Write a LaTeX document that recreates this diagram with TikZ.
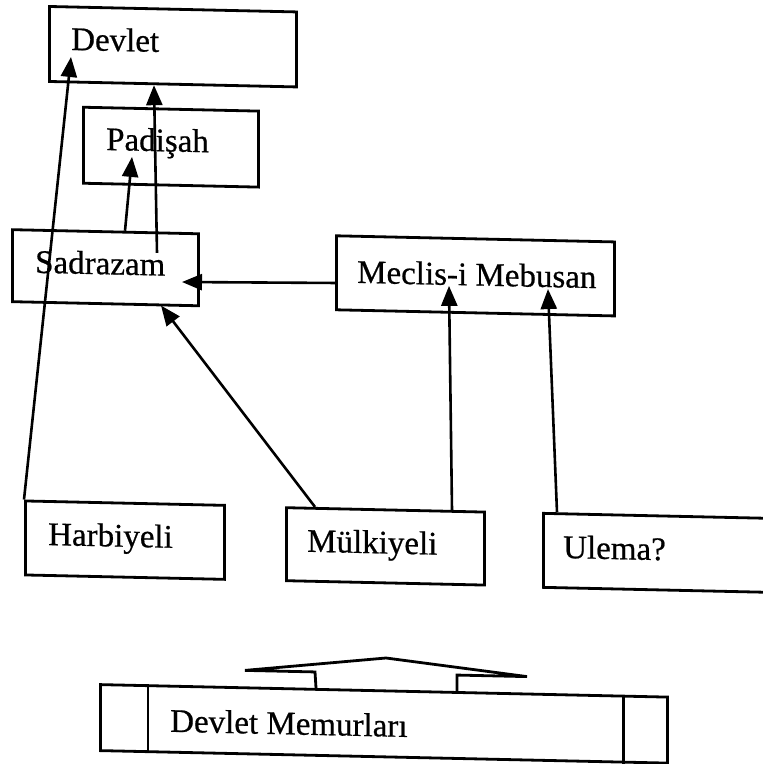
\documentclass[tikz,border=0pt]{standalone}
\usepackage{fontspec}
\setmainfont{Liberation Serif}[FakeBold=0.6]
\usetikzlibrary{arrows.meta,calc}
\begin{document}
\begin{tikzpicture}[x=1pt,y=-1pt,
  box/.style={draw,line width=2.8pt,inner sep=0pt,anchor=north west},
  lbl/.style={inner sep=0pt,anchor=base west,font=\fontsize{33}{40}\selectfont},
  arr/.style={line width=2.6pt,-{Triangle[length=20pt,width=16pt]}}]
\useasboundingbox (0,0) rectangle (763,764);
\clip (0,0) rectangle (763,764);
\begin{scope}[yslant=-0.022, transform shape]
% boxes
\node[box,minimum width=247pt,minimum height=75pt] (devlet) at (48,4) {};
\node[box,minimum width=175pt,minimum height=76pt] (padisah) at (82,104) {};
\node[box,minimum width=186pt,minimum height=72pt] (sadrazam) at (11,228) {};
\node[box,minimum width=278pt,minimum height=74pt] (meclis) at (335,227) {};
\node[box,minimum width=199pt,minimum height=74pt] (harb) at (24,499) {};
\node[box,minimum width=198pt,minimum height=73pt] (mulk) at (285,500) {};
\node[box,minimum width=240pt,minimum height=74pt] (ulema) at (542,500) {};
\node[box,minimum width=567pt,minimum height=66pt] (memur) at (99,681) {};
\draw[line width=2.8pt] ($(memur.north west)+(49,0)$) -- ($(memur.south west)+(49,0)$);
\draw[line width=2.8pt] ($(memur.north east)+(-45,0)$) -- ($(memur.south east)+(-45,0)$);
% labels
\node[lbl] (devlet-t) at (71,48.4) {Devlet};
\node[lbl] (padisah-t) at (106,147.7) {Padişah};
\node[lbl] (sadrazam-t) at (35,272) {Sadrazam};
\node[lbl] (meclis-t) at (357,275) {Meclis-i Mebusan};
\node[lbl] (harb-t) at (48,544) {Harbiyeli};
\node[lbl] (mulk-t) at (307,545) {Mülkiyeli};
\node[lbl] (ulema-t) at (563,545.6) {Ulema?};
\node[lbl] (memur-t) at (170,728) {Devlet Memurları};
% connector ends
\coordinate (t1) at (71,55.4);
\coordinate (s2) at (157,249.5);
\coordinate (t3) at (132,154);
\coordinate (t4) at (182,278);
\coordinate (t5) at (161,302);
\coordinate (t6) at (449,276);
\coordinate (t7) at (548,277);
% connectors
\draw[arr] (harb.north west) -- (t1);
\draw[arr] (s2) -- ($(devlet.south west)+(106,0)$);
\draw[arr] ($(sadrazam.north west)+(114,0)$) -- (t3);
\draw[arr] ($(meclis.north west)+(0,48.6)$) -- (t4);
\draw[arr] ($(mulk.north west)+(30,0)$) -- (t5);
\draw[arr] ($(mulk.north west)+(167,0)$) -- (t6);
\draw[arr] ($(ulema.north west)+(15,0)$) -- (t7);
% big outline arrow
\draw[line width=2.8pt,line join=miter]
  ($(memur.north west)+(217,0)$) -- (315,665) -- (245,665) -- (386,649.5)
  -- (527,665) -- (457,665) -- ($(memur.north west)+(358,0)$);
\end{scope}
\end{tikzpicture}
\end{document}
